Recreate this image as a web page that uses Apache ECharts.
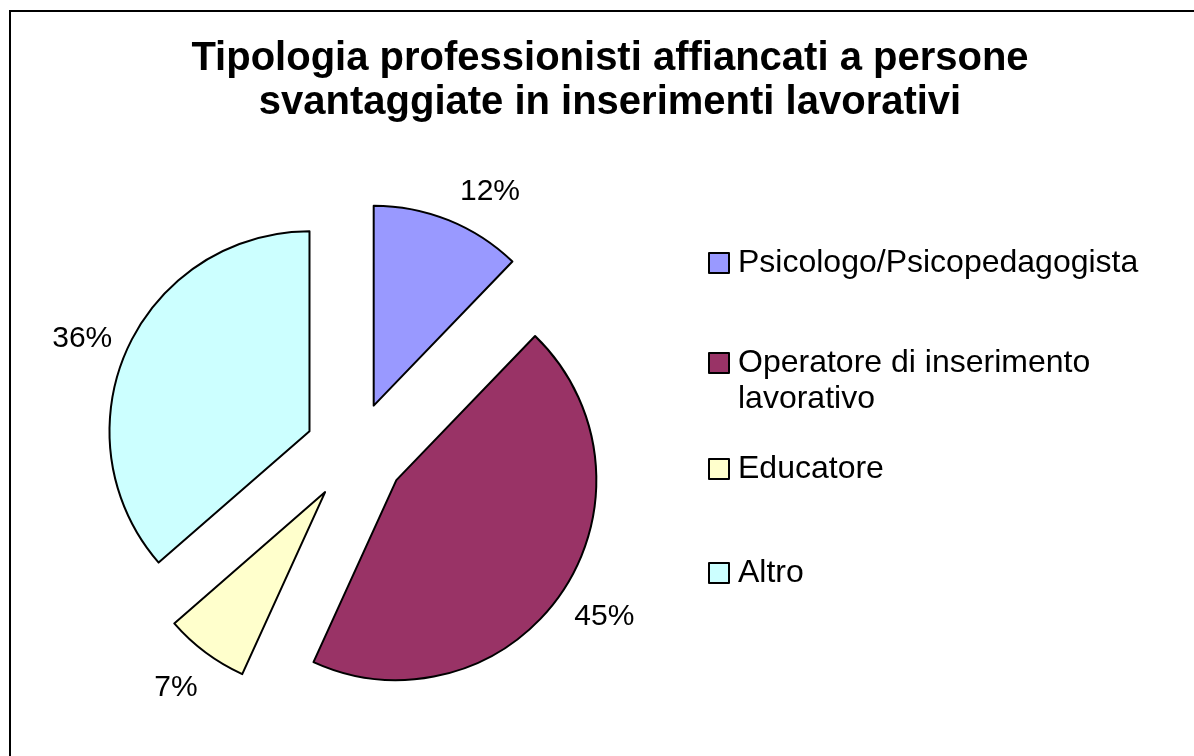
<!DOCTYPE html>
<html><head><meta charset="utf-8">
<script src="https://cdn.jsdelivr.net/npm/echarts@6/dist/echarts.min.js"></script>
<style>html,body{margin:0;padding:0;background:#fff}#c{width:1194px;height:756px}</style>
</head><body><div id="c"></div>
<script>
// ---- data ----
const categories = ['Psicologo/Psicopedagogista', 'Operatore di inserimento lavorativo', 'Educatore', 'Altro'];
const legendLabels = ['Psicologo/Psicopedagogista', 'Operatore di inserimento\nlavorativo', 'Educatore', 'Altro'];
const shares = [12.2, 44.6, 6.8, 36.4];   // % (labels show rounded values 12, 45, 7, 36)
const colors = ['#9999FF', '#993366', '#FFFFCC', '#CCFFFF'];
const titleLines = ['Tipologia professionisti affiancati a persone', 'svantaggiate in inserimenti lavorativi'];

// label nudges (px) to mimic the spreadsheet's outside-end placement
const labelNudgeX = [4, -4, 4, 3];
const labelNudgeY = [-10, 13, 19, -1];

const FONT = '"Liberation Sans", Arial, sans-serif';
const chart = echarts.init(document.getElementById('c'), null, {renderer: 'canvas'});

const pieData = categories.map((name, i) => ({
  name: name,
  value: shares[i],
  selected: true,
  itemStyle: {color: colors[i]}
}));

// per-item line heights so that the legend rows sit like the original
const legendData = categories.map((name, i) => {
  const multi = legendLabels[i].indexOf('\n') >= 0;
  return {
    name: name,
    textStyle: {lineHeight: multi ? 36 : (i === 0 ? 92 : 104), padding: [0, 0, 0, 4]}
  };
});

chart.setOption({
  animation: false,
  backgroundColor: '#ffffff',
  title: {
    text: titleLines.join('\n'),
    left: 610,
    textAlign: 'center',
    top: 37,
    padding: 0,
    textStyle: {fontFamily: FONT, fontWeight: 'bold', fontSize: 40, lineHeight: 44, color: '#000'}
  },
  legend: {
    orient: 'vertical',
    left: 708,
    top: 217,
    padding: 0,
    itemGap: 0,
    itemWidth: 20,
    itemHeight: 20,
    icon: 'rect',
    selectedMode: false,
    itemStyle: {borderColor: '#000', borderWidth: 2},
    data: legendData,
    formatter: function (name) {
      const t = legendLabels[categories.indexOf(name)];
      // a blank first line keeps the first text line level with the swatch
      return t.indexOf('\n') >= 0 ? ' \n' + t : t;
    },
    textStyle: {fontFamily: FONT, fontSize: 32, color: '#000'}
  },
  graphic: [{
    type: 'rect',
    shape: {x: 10, y: 11, width: 1300, height: 1000},
    style: {fill: 'none', stroke: '#000', lineWidth: 2},
    silent: true,
    z: -10
  }],
  series: [{
    type: 'pie',
    center: [355, 452],
    radius: 200,
    startAngle: 90,
    clockwise: true,
    selectedMode: 'multiple',
    selectedOffset: 50,
    avoidLabelOverlap: false,
    percentPrecision: 0,
    emphasis: {disabled: true, scale: false},
    select: {itemStyle: {borderColor: '#000', borderWidth: 2}},
    itemStyle: {borderColor: '#000', borderWidth: 2},
    label: {
      show: true,
      position: 'outside',
      formatter: '{d}%',
      fontFamily: FONT,
      fontSize: 30,
      color: '#000',
      distanceToLabelLine: 0
    },
    labelLine: {show: false, length: 20, length2: 0},
    labelLayout: function (p) {
      return {dx: labelNudgeX[p.dataIndex], dy: labelNudgeY[p.dataIndex]};
    },
    data: pieData
  }]
});
</script>
</body></html>
